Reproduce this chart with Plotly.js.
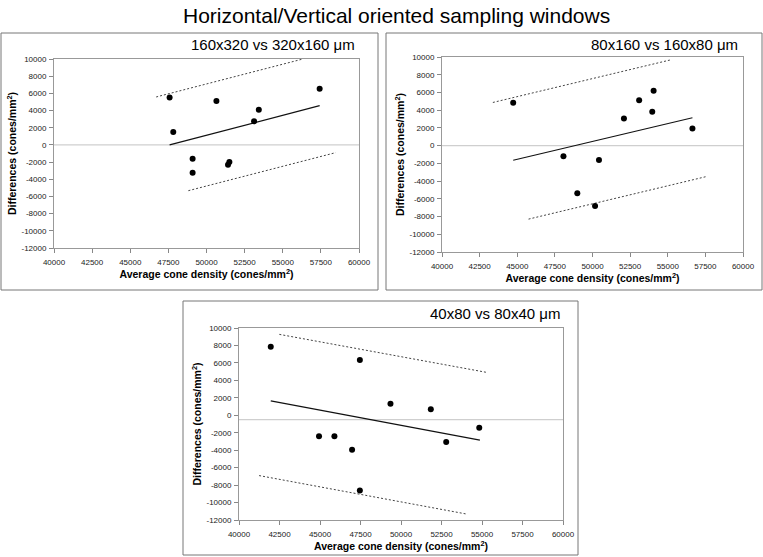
<!DOCTYPE html>
<html>
<head>
<meta charset="utf-8">
<script src="https://cdn.plot.ly/plotly-3.0.1.min.js"></script>
<style>html,body{margin:0;padding:0;background:#fff}#chart{width:763px;height:557px}</style>
</head>
<body>
<div id="chart"></div>
<script>
// ---- data ----
const mainTitle = "Horizontal/Vertical oriented sampling windows";
const panelTitles = ["160x320 vs 320x160 \u03bcm", "80x160 vs 160x80 \u03bcm", "40x80 vs 80x40 \u03bcm"];
const xTitle = "<b>Average cone density (cones/mm<sup>2</sup>)</b>";
const yTitle = "<b>Differences (cones/mm<sup>2</sup>)</b>";
const xTickVals = [40000, 42500, 45000, 47500, 50000, 52500, 55000, 57500, 60000];
const yTickVals = [10000, 8000, 6000, 4000, 2000, 0, -2000, -4000, -6000, -8000, -10000, -12000];

const p1X = [47580, 47820, 49090, 49090, 50650, 51410, 51500, 53120, 53430, 57420];
const p1Y = [5530, 1500, -1600, -3230, 5110, -2300, -2000, 2740, 4100, 6540];
const p1FitX = [47580, 57420], p1FitY = [0, 4570];
const p1UpX = [46700, 56320], p1UpY = [5580, 10000];
const p1LoX = [48810, 58470], p1LoY = [-5330, -900];

const p2X = [44730, 48070, 48990, 50430, 50170, 52090, 53100, 53970, 54060, 56640];
const p2Y = [4830, -1210, -5380, -1620, -6800, 3070, 5130, 3820, 6180, 1940];
const p2FitX = [44730, 56640], p2FitY = [-1650, 3150];
const p2UpX = [43380, 55250], p2UpY = [4870, 9700];
const p2LoX = [45750, 57640], p2LoY = [-8290, -3460];

const p3X = [41960, 44940, 45890, 46980, 47460, 47460, 49350, 51840, 52790, 54830];
const p3Y = [7860, -2400, -2400, -3960, 6330, -8630, 1320, 700, -3050, -1440];
const p3FitX = [41960, 54870], p3FitY = [1660, -2850];
const p3UpX = [42490, 55300], p3UpY = [9270, 4910];
const p3LoX = [41240, 54030], p3LoY = [-6910, -11310];

const refLineX = [40000, 60000];
const refLineY = [0, 0, -500];

// ---- build ----
const W = 763, H = 557;
const font = "Liberation Sans, Arial, Helvetica, sans-serif";
const panels = [
  {x: p1X, y: p1Y, fx: p1FitX, fy: p1FitY, ux: p1UpX, uy: p1UpY, lx: p1LoX, ly: p1LoY,
   px: [54, 359], py: [59, 248], box: [1, 33, 378, 290], tx: 357, ty: 45},
  {x: p2X, y: p2Y, fx: p2FitX, fy: p2FitY, ux: p2UpX, uy: p2UpY, lx: p2LoX, ly: p2LoY,
   px: [442, 743], py: [57, 252], box: [386, 33, 762, 290], tx: 740, ty: 45},
  {x: p3X, y: p3Y, fx: p3FitX, fy: p3FitY, ux: p3UpX, uy: p3UpY, lx: p3LoX, ly: p3LoY,
   px: [239, 563], py: [328, 520], box: [183, 301, 578, 555], tx: 562, ty: 313}
];

const traces = [];
const layout = {
  width: W, height: H,
  margin: {l: 0, r: 0, t: 0, b: 0},
  paper_bgcolor: "#fff", plot_bgcolor: "#fff",
  showlegend: false,
  font: {family: font, color: "#000"},
  shapes: [], annotations: []
};

layout.annotations.push({
  text: mainTitle, xref: "paper", yref: "paper", x: 396 / W, y: 1 - 16 / H,
  xanchor: "center", yanchor: "middle", showarrow: false,
  font: {family: font, size: 21, color: "#000"}
});

panels.forEach((p, i) => {
  const n = i === 0 ? "" : String(i + 1);
  const xa = "x" + n, ya = "y" + n;
  traces.push({x: refLineX, y: [refLineY[i], refLineY[i]], xaxis: xa, yaxis: ya, mode: "lines",
    line: {color: "#cfcfcf", width: 1.2}, hoverinfo: "skip"});
  traces.push({x: p.ux, y: p.uy, xaxis: xa, yaxis: ya, mode: "lines",
    line: {color: "#444", width: 1, dash: "2px,2px"}});
  traces.push({x: p.lx, y: p.ly, xaxis: xa, yaxis: ya, mode: "lines",
    line: {color: "#444", width: 1, dash: "2px,2px"}});
  traces.push({x: p.fx, y: p.fy, xaxis: xa, yaxis: ya, mode: "lines",
    line: {color: "#111", width: 1.2}});
  traces.push({x: p.x, y: p.y, xaxis: xa, yaxis: ya, mode: "markers",
    marker: {color: "#000", size: 6}});

  layout["xaxis" + n] = {
    domain: [p.px[0] / W, p.px[1] / W], anchor: ya, range: [40000, 60000],
    tickvals: xTickVals, ticktext: xTickVals.map(String), ticks: "outside", ticklen: 4,
    tickcolor: "#888", showline: true, linecolor: "#999", linewidth: 1, mirror: true,
    showgrid: false, zeroline: false, ticklabelstandoff: 2,
    tickfont: {size: 8, color: "#222"},
    title: {text: xTitle, standoff: 4, font: {size: 10.5, color: "#000"}}
  };
  layout["yaxis" + n] = {
    domain: [1 - p.py[1] / H, 1 - p.py[0] / H], anchor: xa, range: [-12000, 10000],
    tickvals: yTickVals, ticktext: yTickVals.map(String), ticks: "outside", ticklen: 4,
    tickcolor: "#888", showline: true, linecolor: "#999", linewidth: 1, mirror: true,
    showgrid: false, zeroline: false, ticklabelstandoff: 1,
    tickfont: {size: 8, color: "#222"},
    title: {text: yTitle, standoff: 2, font: {size: 10.5, color: "#000"}}
  };
  layout.shapes.push({type: "rect", xref: "paper", yref: "paper",
    x0: p.box[0] / W, x1: p.box[2] / W, y0: 1 - p.box[3] / H, y1: 1 - p.box[1] / H,
    line: {color: "#777", width: 1}, fillcolor: "rgba(0,0,0,0)", layer: "below"});
  layout.annotations.push({text: panelTitles[i], xref: "paper", yref: "paper",
    x: p.tx / W, y: 1 - p.ty / H, xanchor: "right", yanchor: "middle", showarrow: false,
    font: {family: font, size: 15, color: "#000"}});
});

Plotly.newPlot("chart", traces, layout, {staticPlot: true, displayModeBar: false});
</script>
</body>
</html>
